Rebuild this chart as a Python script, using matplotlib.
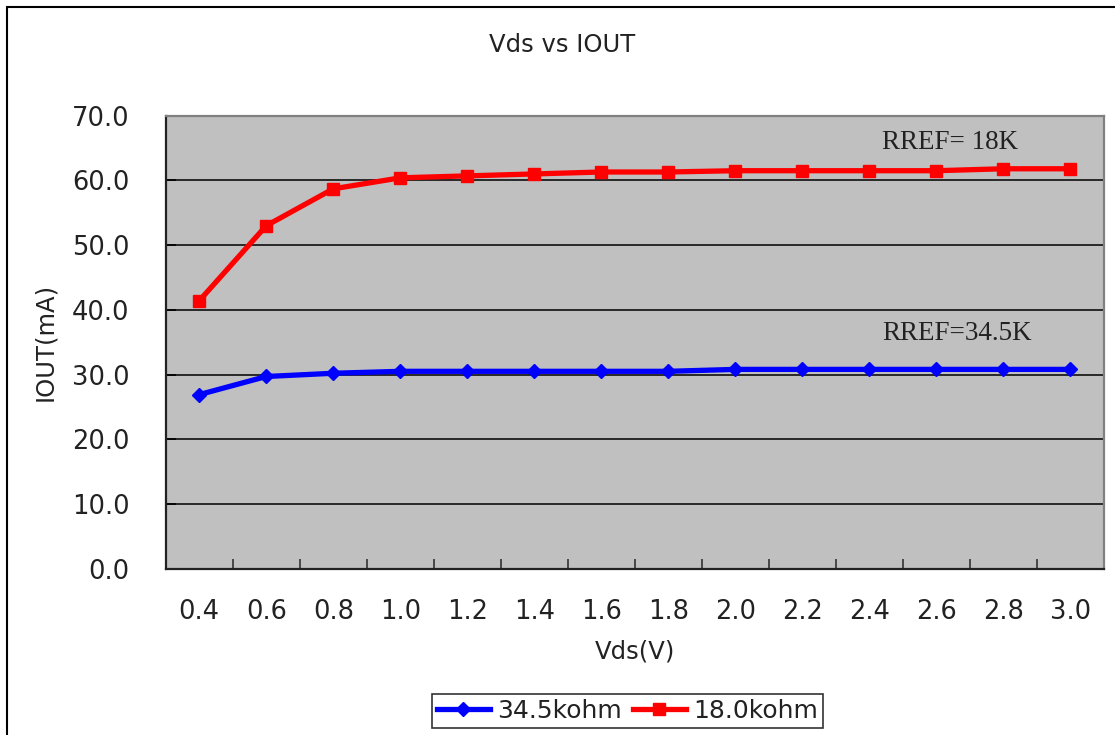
import matplotlib
matplotlib.use("Agg")
import matplotlib.pyplot as plt
from matplotlib.patches import Rectangle
from matplotlib.ticker import FixedLocator

categories = ["0.4", "0.6", "0.8", "1.0", "1.2", "1.4", "1.6", "1.8",
              "2.0", "2.2", "2.4", "2.6", "2.8", "3.0"]
iout_34k5 = [26.9, 29.7, 30.2, 30.5, 30.5, 30.5, 30.5, 30.5,
             30.8, 30.8, 30.8, 30.8, 30.8, 30.8]
iout_18k0 = [41.4, 53.0, 58.7, 60.4, 60.7, 61.0, 61.3, 61.3,
             61.5, 61.5, 61.5, 61.5, 61.8, 61.8]
yticks = [0, 10, 20, 30, 40, 50, 60, 70]
series_names = ["34.5kohm", "18.0kohm"]

W, H = 1115, 735
fig = plt.figure(figsize=(W / 100, H / 100), dpi=100)
fig.patch.set_facecolor("white")

# outer chart border (cropped at right/bottom)
fig.patches.append(Rectangle((7 / W, -0.1), 1.2, 1 - 7 / H + 0.1,
                             transform=fig.transFigure, fill=False,
                             edgecolor="black", linewidth=1.5, zorder=0))

left, right, top, bottom = 165.7, 1104, 115.7, 568.7
ax = fig.add_axes([left / W, 1 - bottom / H, (right - left) / W, (bottom - top) / H])
ax.set_facecolor("#C0C0C0")

x = list(range(len(categories)))
ax.plot(x, iout_34k5, color="#0000FF", lw=3.8, marker="D", ms=7.5,
        label=series_names[0], zorder=3)
ax.plot(x, iout_18k0, color="#FF0000", lw=3.8, marker="s", ms=8.5,
        label=series_names[1], zorder=3)

ax.set_xlim(-0.5, len(categories) - 0.5)
ax.set_ylim(0, 70)

FS = 17.5
TFS = 18.5
ax.yaxis.set_major_locator(FixedLocator(yticks))
ax.set_yticklabels([f"{v:.1f}" for v in yticks], fontsize=TFS, color="#222222")
ax.yaxis.grid(True, color="black", lw=1.1)
ax.set_axisbelow(True)
ax.tick_params(axis="y", direction="in", length=7, width=1.2, pad=26, color="black")

ax.set_xticks(x)
ax.set_xticklabels(categories, fontsize=TFS, color="#222222")
ax.tick_params(axis="x", which="major", length=0, pad=22)
ax.xaxis.set_minor_locator(FixedLocator([i + 0.5 for i in range(len(categories) - 1)]))
ax.tick_params(axis="x", which="minor", direction="in", length=7, width=1.2, color="#333333")

for s in ["left", "bottom"]:
    ax.spines[s].set_color("#222222")
    ax.spines[s].set_linewidth(1.6)
for s in ["top", "right"]:
    ax.spines[s].set_color("#808080")
    ax.spines[s].set_linewidth(1.6)

ax.set_xlabel("Vds(V)", fontsize=FS, labelpad=10, color="#222222")
ax.set_ylabel("IOUT(mA)", fontsize=FS, labelpad=11, color="#222222")

fig.text(562 / W, 1 - 45 / H, "Vds vs IOUT", fontsize=FS, ha="center", va="center",
         color="#222222")

ax.text(10.19, 65.9, "RREF= 18K", fontsize=19.5, family="Liberation Serif",
        ha="left", va="center", color="#222222")
ax.text(10.19, 36.3, "RREF=34.5K", fontsize=19.5, family="Liberation Serif",
        ha="left", va="center", color="#222222")

leg = fig.legend(loc="center", bbox_to_anchor=(627.5 / W, 1 - 711 / H), ncol=2,
                 fontsize=18, frameon=True, fancybox=False, borderpad=0.2,
                 handlelength=2.1, handletextpad=0.3, columnspacing=0.45,
                 borderaxespad=0)
leg.get_frame().set_edgecolor("black")
leg.get_frame().set_linewidth(1.2)
for t in leg.get_texts():
    t.set_color("#222222")

fig.savefig("out.png", dpi=100)
